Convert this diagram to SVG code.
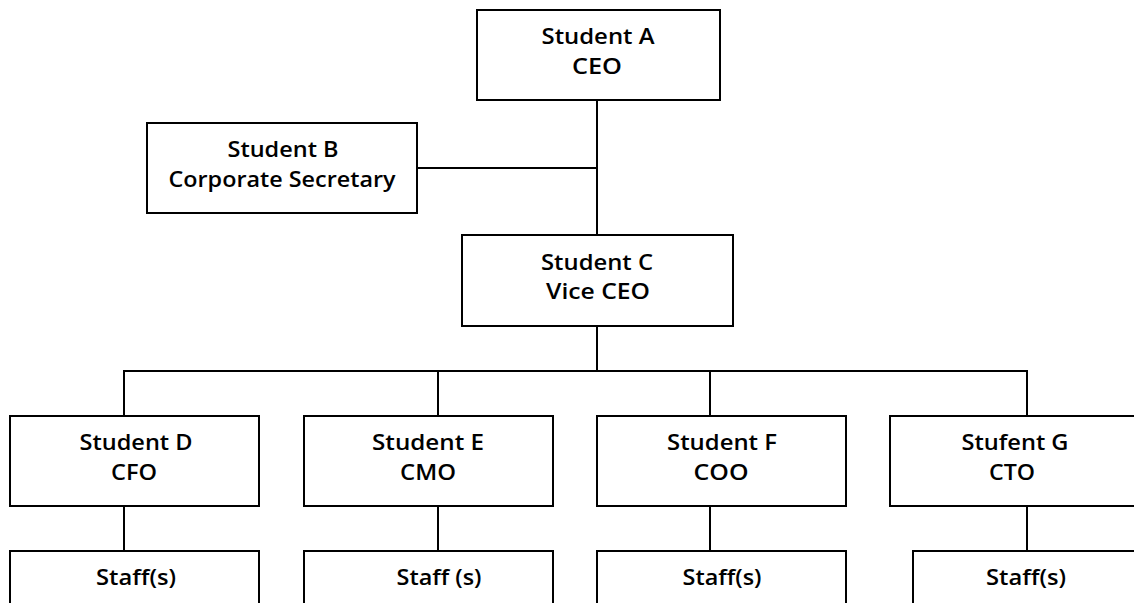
<svg xmlns="http://www.w3.org/2000/svg" width="1134" height="603" viewBox="0 0 1134 603">
<style>
rect.box{fill:#fff;stroke:#000;stroke-width:2}
.conn line{stroke:#000;stroke-width:2}
text{font-family:"Open Sans","DejaVu Sans",sans-serif;font-size:21px;font-weight:600;fill:#000;text-anchor:middle}
</style>
<rect x="0" y="0" width="1134" height="603" fill="#fff"/>
<g class="conn" id="connectors">
<line x1="597" y1="100" x2="597" y2="235"/>
<line x1="417" y1="168" x2="597" y2="168"/>
<line x1="597" y1="326" x2="597" y2="371"/>
<line x1="123" y1="371" x2="1028" y2="371"/>
<line x1="124" y1="371" x2="124" y2="416"/>
<line x1="438" y1="371" x2="438" y2="416"/>
<line x1="710" y1="371" x2="710" y2="416"/>
<line x1="1027" y1="371" x2="1027" y2="416"/>
<line x1="124" y1="506" x2="124" y2="551"/>
<line x1="438" y1="506" x2="438" y2="551"/>
<line x1="710" y1="506" x2="710" y2="551"/>
<line x1="1027" y1="506" x2="1027" y2="551"/>
</g>
<g id="nodeA"><rect class="box" x="477" y="10" width="243" height="90"/>
<text x="598" y="44" textLength="113" lengthAdjust="spacingAndGlyphs">Student A</text>
<text x="597" y="74" textLength="50" lengthAdjust="spacingAndGlyphs">CEO</text></g>
<g id="nodeB"><rect class="box" x="147" y="123" width="270" height="90"/>
<text x="283" y="157" textLength="111" lengthAdjust="spacingAndGlyphs">Student B</text>
<text x="282" y="187" textLength="227" lengthAdjust="spacingAndGlyphs">Corporate Secretary</text></g>
<g id="nodeC"><rect class="box" x="462" y="235" width="271" height="91"/>
<text x="597" y="270" textLength="112" lengthAdjust="spacingAndGlyphs">Student C</text>
<text x="598" y="299" textLength="104" lengthAdjust="spacingAndGlyphs">Vice CEO</text></g>
<g id="nodeD"><rect class="box" x="10" y="416" width="249" height="90"/>
<text x="136" y="450" textLength="113" lengthAdjust="spacingAndGlyphs">Student D</text>
<text x="134" y="480" textLength="46" lengthAdjust="spacingAndGlyphs">CFO</text></g>
<g id="nodeE"><rect class="box" x="304" y="416" width="249" height="90"/>
<text x="428" y="450" textLength="112" lengthAdjust="spacingAndGlyphs">Student E</text>
<text x="428" y="480" textLength="56" lengthAdjust="spacingAndGlyphs">CMO</text></g>
<g id="nodeF"><rect class="box" x="597" y="416" width="249" height="90"/>
<text x="722" y="450" textLength="110" lengthAdjust="spacingAndGlyphs">Student F</text>
<text x="721" y="480" textLength="55" lengthAdjust="spacingAndGlyphs">COO</text></g>
<g id="nodeG"><rect class="box" x="890" y="416" width="249" height="90"/>
<text x="1015" y="450" textLength="107" lengthAdjust="spacingAndGlyphs">Stufent G</text>
<text x="1012" y="480" textLength="46" lengthAdjust="spacingAndGlyphs">CTO</text></g>
<g id="staffD"><rect class="box" x="10" y="551" width="249" height="90"/>
<text x="136" y="585" textLength="80" lengthAdjust="spacingAndGlyphs">Staff(s)</text></g>
<g id="staffE"><rect class="box" x="304" y="551" width="249" height="90"/>
<text x="439" y="585" textLength="85" lengthAdjust="spacingAndGlyphs">Staff (s)</text></g>
<g id="staffF"><rect class="box" x="597" y="551" width="249" height="90"/>
<text x="722" y="585" textLength="79" lengthAdjust="spacingAndGlyphs">Staff(s)</text></g>
<g id="staffG"><rect class="box" x="913" y="551" width="249" height="90"/>
<text x="1026" y="585" textLength="80" lengthAdjust="spacingAndGlyphs">Staff(s)</text></g>
</svg>
